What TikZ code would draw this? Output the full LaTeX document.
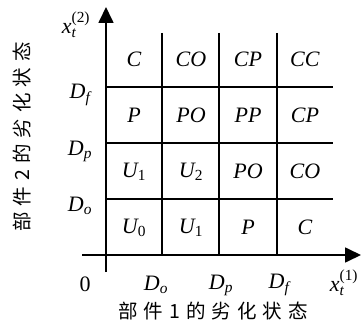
\documentclass[tikz,border=0pt]{standalone}
\usepackage{amsmath}
\usepackage{fontspec}
\setmainfont{Liberation Serif}
\newfontfamily\cjk{Noto Sans CJK SC}
\usetikzlibrary{arrows.meta}
\newcommand\mi[1]{\textit{#1}}
\newcommand\cjsp[1]{#1\hspace{6pt}}
\begin{document}
\begin{tikzpicture}[x=1pt,y=-1pt,
  gridline/.style={line width=1.7pt},
  axisline/.style={line width=1.7pt,-{Triangle[length=16pt,width=15pt]}},
  lab/.style={font=\fontsize{22}{26}\selectfont,inner sep=0pt},
  cjklab/.style={font=\cjk\fontsize{19.5}{22}\selectfont,inner sep=0pt}]
\useasboundingbox (0,0) rectangle (361,326);
% axes
\coordinate (ybot) at (106,272);
\coordinate (ytop) at (106,7);
\coordinate (xleft) at (82,255);
\coordinate (xright) at (361,255);
\draw[axisline] (ybot) -- (ytop);
\draw[axisline] (xleft) -- (xright);
% grid
\foreach \x/\n in {162/a,219/b,277/c}{
  \coordinate (v\n t) at (\x,33);
  \coordinate (v\n b) at (\x,255);
  \draw[gridline] (v\n t) -- (v\n b);
}
\foreach \y/\n in {87/a,143/b,199/c}{
  \coordinate (h\n l) at (106,\y);
  \coordinate (h\n r) at (333,\y);
  \draw[gridline] (h\n l) -- (h\n r);
}
% cell labels
\node[lab] (c11) at (134,59) {\mi{C}};
\node[lab] (c12) at (191,59) {\mi{CO}};
\node[lab] (c13) at (248,59) {\mi{CP}};
\node[lab] (c14) at (305,59) {\mi{CC}};
\node[lab] (c21) at (134,115) {\mi{P}};
\node[lab] (c22) at (191,115) {\mi{PO}};
\node[lab] (c23) at (248,115) {\mi{PP}};
\node[lab] (c24) at (305,115) {\mi{CP}};
\node[lab] (c31) at (134,172) {$\mi{U}_{\text{1}}$};
\node[lab] (c32) at (191,172) {$\mi{U}_{\text{2}}$};
\node[lab] (c33) at (248,171) {\mi{PO}};
\node[lab] (c34) at (305,171) {\mi{CO}};
\node[lab] (c41) at (134,228) {$\mi{U}_{\text{0}}$};
\node[lab] (c42) at (191,228) {$\mi{U}_{\text{1}}$};
\node[lab] (c43) at (248,227) {\mi{P}};
\node[lab] (c44) at (305,227) {\mi{C}};
% y-axis labels
\node[lab] (x2) at (76,25) {$\mi{x}_{\mi{t}}^{\text{(2)}}$};
\node[lab] (df) at (80,95) {$\mi{D}_{\mi{f}}$};
\node[lab] (dp) at (80,151) {$\mi{D}_{\mi{p}}$};
\node[lab] (do) at (80,206) {$\mi{D}_{\mi{o}}$};
% x-axis labels
\node[lab] (zero) at (85,284) {0};
\node[lab] (dox) at (156,285) {$\mi{D}_{\mi{o}}$};
\node[lab] (dpx) at (221,285) {$\mi{D}_{\mi{p}}$};
\node[lab] (dfx) at (279,285) {$\mi{D}_{\mi{f}}$};
\node[lab] (x1) at (344,283) {$\mi{x}_{\mi{t}}^{\text{(1)}}$};
% axis titles
\node[cjklab] (xt) at (213,311) {\cjsp{部}\cjsp{件}\cjsp{1}\cjsp{的}\cjsp{劣}\cjsp{化}\cjsp{状}态};
\node[cjklab,rotate=90] (yt) at (22,137) {\cjsp{部}\cjsp{件}\cjsp{2}\cjsp{的}\cjsp{劣}\cjsp{化}\cjsp{状}态};
\end{tikzpicture}
\end{document}
